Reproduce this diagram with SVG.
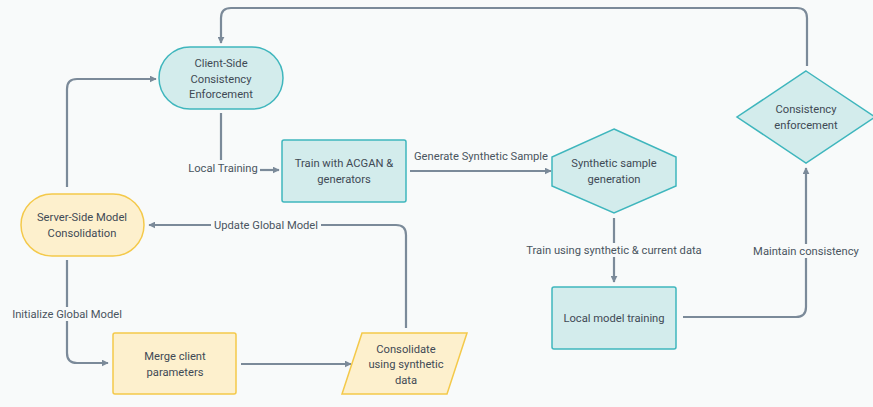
<svg xmlns="http://www.w3.org/2000/svg" width="873" height="407" viewBox="0 0 873 407">
<defs>
<marker id="ah" viewBox="0 0 10 10" refX="9" refY="5" markerWidth="7" markerHeight="7" markerUnits="userSpaceOnUse" orient="auto">
<path d="M0,0 L10,5 L0,10 z" fill="#7b8a99"/>
</marker>
<style>
.t{font-family:Roboto,"Liberation Sans",sans-serif;font-size:11.2px;fill:#3f4a55;text-anchor:middle}
.l{font-family:Roboto,"Liberation Sans",sans-serif;font-size:11.2px;fill:#4a5560;text-anchor:middle}
.teal{fill:#d3ecec;stroke:#3fb6bd;stroke-width:1.5}
.yel{fill:#fdf0cd;stroke:#f4c94a;stroke-width:1.5}
.c{fill:none;stroke:#7b8a99;stroke-width:2.2;marker-end:url(#ah)}
.cn{fill:none;stroke:#7b8a99;stroke-width:2.2}
.bg{fill:#f8fafa}
</style>
</defs>
<rect width="873" height="407" fill="#f8fafa"/>
<g id="connectors">
<path class="c" d="M807,66 V18 Q807,8 797,8 H231 Q221,8 221,18 V43"/>
<path class="c" d="M67,187 V89 Q67,79 77,79 H156"/>
<path class="cn" d="M221,113 V160"/>
<path class="c" d="M260,170 H279"/>
<text class="l" x="223" y="172">Local Training</text>
<path class="c" d="M410,171 H551"/>
<text class="l" x="481" y="160">Generate Synthetic Sample</text>
<path class="c" d="M406,328 V235 Q406,225 396,225 H149"/>
<rect class="bg" x="211" y="218" width="110" height="14"/>
<text class="l" x="266" y="229">Update Global Model</text>
<path class="c" d="M67,260 V353 Q67,363 77,363 H108"/>
<rect class="bg" x="8" y="307" width="118" height="14"/>
<text class="l" x="67" y="318">Initialize Global Model</text>
<path class="c" d="M241,364 L351,364"/>
<path class="c" d="M614,218 V282"/>
<rect class="bg" x="520" y="243" width="188" height="14"/>
<text class="l" x="614" y="254">Train using synthetic &amp; current data</text>
<path class="c" d="M683,317 H796 Q806,317 806,307 V168"/>
<rect class="bg" x="750" y="244" width="112" height="14"/>
<text class="l" x="806" y="255">Maintain consistency</text>
</g>
<g id="client">
<rect class="teal" x="159" y="47" width="124" height="62" rx="31"/>
<text class="t" x="221" y="67">Client-Side</text>
<text class="t" x="221" y="83">Consistency</text>
<text class="t" x="221" y="98">Enforcement</text>
</g>
<g id="acgan">
<rect class="teal" x="282" y="140" width="124" height="62" rx="2"/>
<text class="t" x="344" y="167">Train with ACGAN &amp;</text>
<text class="t" x="344" y="183">generators</text>
</g>
<g id="synth">
<polygon class="teal" points="614,129 676,157 676,186 614,213 552,186 552,157"/>
<text class="t" x="614" y="167">Synthetic sample</text>
<text class="t" x="614" y="183">generation</text>
</g>
<g id="consistency">
<polygon class="teal" points="806,71 875,117 806,163 737,117"/>
<text class="t" x="806" y="113">Consistency</text>
<text class="t" x="806" y="129">enforcement</text>
</g>
<g id="localtrain">
<rect class="teal" x="552" y="287" width="124" height="62" rx="2"/>
<text class="t" x="614" y="322">Local model training</text>
</g>
<g id="server">
<rect class="yel" x="21" y="194" width="123" height="62" rx="31"/>
<text class="t" x="82" y="221">Server-Side Model</text>
<text class="t" x="82" y="237">Consolidation</text>
</g>
<g id="merge">
<rect class="yel" x="113" y="333" width="123" height="61" rx="2"/>
<text class="t" x="175" y="360">Merge client</text>
<text class="t" x="175" y="376">parameters</text>
</g>
<g id="consolidate">
<polygon class="yel" points="362,333 467,333 447,394 342,394"/>
<text class="t" x="406" y="353">Consolidate</text>
<text class="t" x="406" y="368">using synthetic</text>
<text class="t" x="406" y="384">data</text>
</g>
</svg>
